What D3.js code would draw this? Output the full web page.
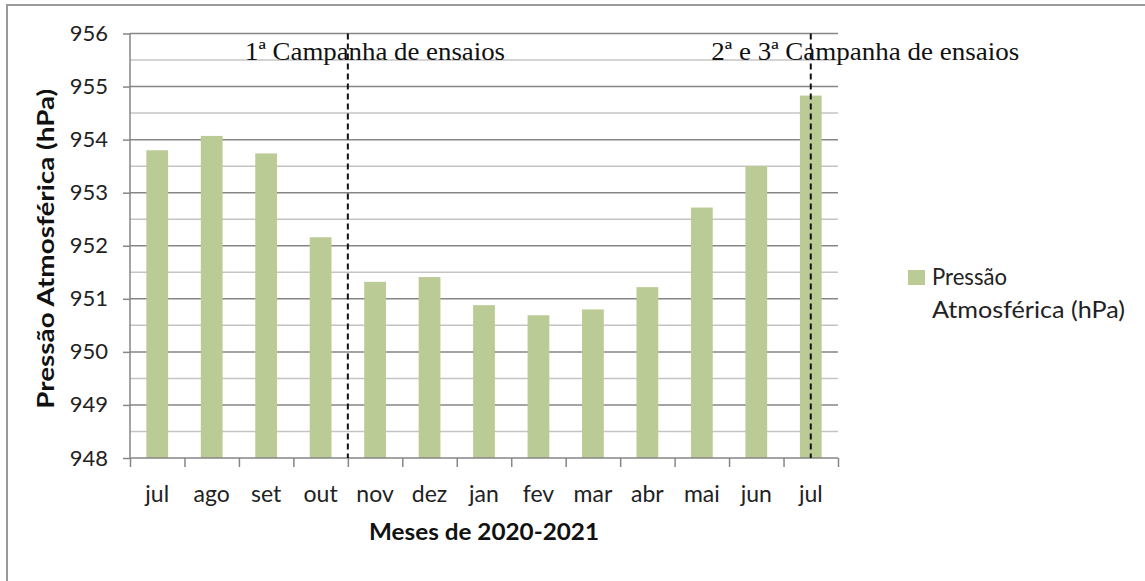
<!DOCTYPE html>
<html>
<head>
  <meta charset="utf-8">
  <script src="https://d3js.org/d3.v7.min.js"></script>
  <style>
    body { margin: 0; background: #fff; }
    svg { display: block; font-family: Lato, "Open Sans", sans-serif; }
    .serif { font-family: "Liberation Serif", "Times New Roman", serif; }
    .axis path, .axis line { stroke: #868686; stroke-width: 1.5; }
    .axis text { fill: #222; }
  </style>
</head>
<body>
<div id="chart"></div>
<script>
// dados
const months = ["jul", "ago", "set", "out", "nov", "dez", "jan", "fev", "mar", "abr", "mai", "jun", "jul"];
const pressure = [953.80, 954.07, 953.74, 952.16, 951.32, 951.41, 950.88, 950.69, 950.80, 951.22, 952.72, 953.50, 954.83];
const yTicks = [948, 949, 950, 951, 952, 953, 954, 955, 956];
const campaignLines = [4, 12.5];        // posição em unidades de categoria
const campaignLabels = ["1ª Campanha de ensaios", "2ª e 3ª Campanha de ensaios"];
const campaignLabelPos = [4.5, 13.5];
const seriesName = ["Pressão", "Atmosférica (hPa)"];

const width = 1145;
const height = 581;
const margin = { top: 33.5, bottom: 123, left: 130, right: 307 };

const svg = d3.select("#chart")
  .append("svg")
  .attr("width", width)
  .attr("height", height);

// moldura externa
svg.append("rect")
  .attr("x", 7).attr("y", 5)
  .attr("width", 1300).attr("height", 800)
  .attr("fill", "none")
  .attr("stroke", "#9a9a9a")
  .attr("stroke-width", 2);

const x = d3.scaleBand()
  .domain(d3.range(months.length))
  .range([margin.left, width - margin.right])
  .paddingInner(0.6)
  .paddingOuter(0.3);

// escala contínua para as fronteiras entre categorias
const xc = d3.scaleLinear()
  .domain([0, months.length])
  .range([margin.left, width - margin.right]);

const y = d3.scaleLinear()
  .domain([948, 956])
  .range([height - margin.bottom, margin.top]);

// linhas de grade secundárias
svg.append("g")
  .selectAll("line")
  .data(d3.range(948.5, 956, 1))
  .join("line")
    .attr("x1", margin.left).attr("x2", width - margin.right)
    .attr("y1", d => y(d)).attr("y2", d => y(d))
    .attr("stroke", "#c4c4c4")
    .attr("stroke-width", 1.5);

// linhas de grade principais
svg.append("g")
  .selectAll("line")
  .data(yTicks.slice(1))
  .join("line")
    .attr("x1", margin.left).attr("x2", width - margin.right)
    .attr("y1", d => y(d)).attr("y2", d => y(d))
    .attr("stroke", "#868686")
    .attr("stroke-width", 1.5);

// barras
svg.append("g")
  .attr("fill", "#bbcb95")
  .selectAll("rect")
  .data(pressure)
  .join("rect")
    .attr("x", (d, i) => x(i))
    .attr("y", d => y(d))
    .attr("width", x.bandwidth())
    .attr("height", d => y(948) - y(d));

// eixo y
svg.append("g")
  .attr("class", "axis")
  .attr("transform", `translate(${margin.left},0)`)
  .call(d3.axisLeft(y).tickValues(yTicks).tickSize(7).tickPadding(15).tickFormat(d3.format("d")))
  .call(g => g.select(".domain").attr("d", `M0,${y(948)}V${y(956)}`))
  .call(g => g.selectAll("text").attr("font-size", 22).attr("font-family", "Lato"));

// eixo x: marcas nas fronteiras
svg.append("g")
  .attr("class", "axis")
  .attr("transform", `translate(0,${y(948)})`)
  .call(d3.axisBottom(xc).tickValues(d3.range(months.length + 1)).tickSize(9).tickFormat(""))
  .call(g => g.select(".domain").attr("d", `M${margin.left},0H${width - margin.right}`));

// rótulos dos meses
svg.append("g")
  .selectAll("text")
  .data(months)
  .join("text")
    .attr("x", (d, i) => x(i) + x.bandwidth() / 2)
    .attr("y", y(948) + 44)
    .attr("text-anchor", "middle")
    .attr("font-size", 23)
    .attr("fill", "#222")
    .text(d => d);

// linhas tracejadas das campanhas
svg.append("g")
  .selectAll("line")
  .data(campaignLines)
  .join("line")
    .attr("x1", d => xc(d)).attr("x2", d => xc(d))
    .attr("y1", y(956)).attr("y2", y(948))
    .attr("stroke", "#111")
    .attr("stroke-width", 2)
    .attr("stroke-dasharray", "6,4");

svg.append("g")
  .selectAll("text")
  .data(campaignLabels)
  .join("text")
    .attr("class", "serif")
    .attr("x", (d, i) => xc(campaignLabelPos[i]))
    .attr("y", 60)
    .attr("text-anchor", "middle")
    .attr("font-size", 26)
    .attr("fill", "#111")
    .attr("textLength", (d, i) => i === 0 ? 260 : 308)
    .attr("lengthAdjust", "spacingAndGlyphs")
    .text(d => d);

// títulos dos eixos
svg.append("text")
  .attr("transform", `translate(54,${(y(948) + y(956)) / 2 + 3}) rotate(-90)`)
  .attr("text-anchor", "middle")
  .attr("font-size", 22)
  .attr("font-weight", "bold")
  .attr("fill", "#111")
  .attr("textLength", 320)
  .attr("lengthAdjust", "spacingAndGlyphs")
  .text("Pressão Atmosférica (hPa)");

svg.append("text")
  .attr("x", (margin.left + width - margin.right) / 2)
  .attr("y", 540)
  .attr("text-anchor", "middle")
  .attr("font-size", 22)
  .attr("font-weight", "bold")
  .attr("fill", "#111")
  .attr("textLength", 230)
  .attr("lengthAdjust", "spacingAndGlyphs")
  .text("Meses de 2020-2021");

// legenda
const legend = svg.append("g").attr("transform", "translate(908,270)");
legend.append("rect")
  .attr("width", 17).attr("height", 15)
  .attr("fill", "#bbcb95");
legend.selectAll("text")
  .data(seriesName)
  .join("text")
    .attr("x", 24)
    .attr("y", (d, i) => 15 + i * 33)
    .attr("font-size", 23)
    .attr("fill", "#222")
    .attr("textLength", (d, i) => i === 0 ? 75 : 193)
    .attr("lengthAdjust", "spacingAndGlyphs")
    .text(d => d);
</script>
</body>
</html>
